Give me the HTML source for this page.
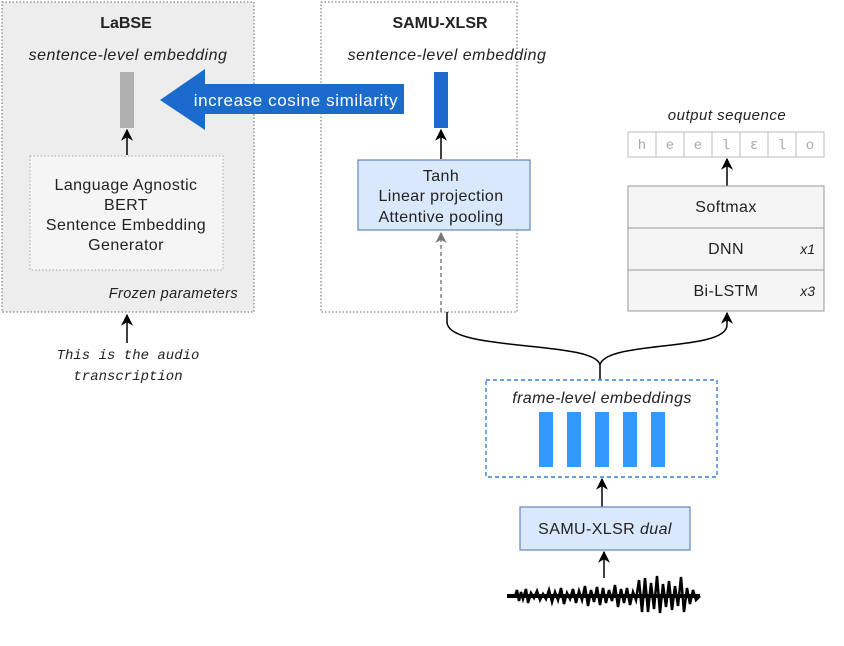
<!DOCTYPE html>
<html><head><meta charset="utf-8"><style>body{margin:0;background:#fff}svg{display:block}text{font-family:"Liberation Sans",sans-serif;fill:#222}</style></head>
<body>
<svg width="844" height="646" viewBox="0 0 844 646" xmlns="http://www.w3.org/2000/svg">
<defs>
<marker id="a" viewBox="0 0 10 10" refX="9" refY="5" markerWidth="8" markerHeight="8" orient="auto"><path d="M0,0 L10,5 L0,10 L3,5 z" fill="#000"/></marker>
<marker id="g" viewBox="0 0 10 10" refX="9" refY="5" markerWidth="8" markerHeight="8" orient="auto"><path d="M0,0 L10,5 L0,10 L3,5 z" fill="#777"/></marker>
</defs>
<!-- LaBSE -->
<rect x="2" y="2" width="252" height="310" fill="#ededed" stroke="#666" stroke-dasharray="1.5,2"/>
<text x="126" y="28" font-size="16" font-weight="bold" text-anchor="middle">LaBSE</text>
<text x="128" y="60" font-size="16" font-style="italic" text-anchor="middle" letter-spacing="0.5">sentence-level embedding</text>
<rect x="120" y="72" width="14" height="56" fill="#b0b0b0"/>
<line x1="127" y1="155" x2="127" y2="130" stroke="#000" stroke-width="1.5" marker-end="url(#a)"/>
<rect x="30" y="156" width="193" height="114" fill="#f5f5f5" stroke="#aaa" stroke-dasharray="1.5,2"/>
<text font-size="16" text-anchor="middle" letter-spacing="0.4"><tspan x="126" y="190">Language Agnostic</tspan><tspan x="126" y="210">BERT</tspan><tspan x="126" y="230">Sentence Embedding</tspan><tspan x="126" y="250">Generator</tspan></text>
<text x="238" y="298" font-size="14.5" font-style="italic" text-anchor="end" fill="#333" letter-spacing="0.4">Frozen parameters</text>
<line x1="127" y1="343" x2="127" y2="315" stroke="#000" stroke-width="1.5" marker-end="url(#a)"/>
<text font-size="14" font-style="italic" text-anchor="middle" fill="#333"><tspan x="128" y="359" style="font-family:'Liberation Mono',monospace">This is the audio</tspan><tspan x="128" y="380" style="font-family:'Liberation Mono',monospace">transcription</tspan></text>
<!-- SAMU -->
<rect x="321" y="2" width="196" height="310" fill="#fff" stroke="#666" stroke-dasharray="1.5,2"/>
<text x="440" y="28" font-size="16" font-weight="bold" text-anchor="middle">SAMU-XLSR</text>
<text x="447" y="60" font-size="16" font-style="italic" text-anchor="middle" letter-spacing="0.5">sentence-level embedding</text>
<rect x="434" y="72" width="14" height="56" fill="#1a6bcc"/>
<path d="M160,100 L205,69 L205,84 L404,84 L404,114 L205,114 L205,130 Z" fill="#1a6bcc"/>
<text x="296" y="106" font-size="17" text-anchor="middle" letter-spacing="0.6" style="fill:#fff">increase cosine similarity</text>
<line x1="441" y1="159" x2="441" y2="130" stroke="#000" stroke-width="1.5" marker-end="url(#a)"/>
<rect x="358" y="160" width="172" height="70" fill="#dae8fc" stroke="#6c8ebf" stroke-width="1.3"/>
<text font-size="16" text-anchor="middle" letter-spacing="0.4"><tspan x="441" y="181">Tanh</tspan><tspan x="441" y="201">Linear projection</tspan><tspan x="441" y="222">Attentive pooling</tspan></text>
<line x1="441" y1="312" x2="441" y2="233" stroke="#777" stroke-width="1.4" stroke-dasharray="4,3" marker-end="url(#g)"/>
<!-- brace -->
<path d="M447,312 L447,322 C447,352 595,340 600,365 L600,380 M600,380 L600,365 C605,340 727,352 727,325 L727,314" fill="none" stroke="#000" stroke-width="1.5"/>
<line x1="727" y1="322" x2="727" y2="313" stroke="#000" stroke-width="1.5" marker-end="url(#a)"/>
<!-- output -->
<text x="727" y="120" font-size="15" font-style="italic" text-anchor="middle" letter-spacing="0.5">output sequence</text>
<g stroke="#bbb" fill="#fff">
<rect x="628" y="132" width="28" height="25"/><rect x="656" y="132" width="28" height="25"/><rect x="684" y="132" width="28" height="25"/><rect x="712" y="132" width="28" height="25"/><rect x="740" y="132" width="28" height="25"/><rect x="768" y="132" width="28" height="25"/><rect x="796" y="132" width="28" height="25"/>
</g>
<g font-size="14" text-anchor="middle"><text x="642" y="149" style="fill:#aaa;font-family:'Liberation Mono',monospace">h</text><text x="670" y="149" style="fill:#aaa;font-family:'Liberation Mono',monospace">e</text><text x="698" y="149" style="fill:#aaa;font-family:'Liberation Mono',monospace">e</text><text x="726" y="149" style="fill:#aaa;font-family:'Liberation Mono',monospace">l</text><text x="754" y="149" style="fill:#aaa;font-family:'DejaVu Sans',sans-serif">ɛ</text><text x="782" y="149" style="fill:#aaa;font-family:'Liberation Mono',monospace">l</text><text x="810" y="149" style="fill:#aaa;font-family:'Liberation Mono',monospace">o</text></g>
<line x1="727" y1="186" x2="727" y2="159" stroke="#000" stroke-width="1.5" marker-end="url(#a)"/>
<g fill="#f5f5f5" stroke="#999"><rect x="628" y="186" width="196" height="42"/><rect x="628" y="228" width="196" height="42"/><rect x="628" y="270" width="196" height="41"/></g>
<text x="726" y="212" font-size="16" text-anchor="middle" letter-spacing="0.4">Softmax</text>
<text x="726" y="254" font-size="16" text-anchor="middle" letter-spacing="0.4">DNN</text>
<text x="815" y="254" font-size="14" font-style="italic" text-anchor="end">x1</text>
<text x="726" y="296" font-size="16" text-anchor="middle" letter-spacing="0.4">Bi-LSTM</text>
<text x="815" y="296" font-size="14" font-style="italic" text-anchor="end">x3</text>
<!-- frame -->
<rect x="486" y="380" width="231" height="97" fill="#fff" stroke="#3a7fd5" stroke-width="1.4" stroke-dasharray="4,3"/>
<text x="602" y="403" font-size="16" font-style="italic" text-anchor="middle" letter-spacing="0.4">frame-level embeddings</text>
<g fill="#3399ff"><rect x="539" y="412" width="14" height="55"/><rect x="567" y="412" width="14" height="55"/><rect x="595" y="412" width="14" height="55"/><rect x="623" y="412" width="14" height="55"/><rect x="651" y="412" width="14" height="55"/></g>
<line x1="602" y1="507" x2="602" y2="479" stroke="#000" stroke-width="1.5" marker-end="url(#a)"/>
<rect x="520" y="507" width="170" height="43" fill="#dae8fc" stroke="#6c8ebf" stroke-width="1.3"/>
<text x="605" y="534" font-size="16" text-anchor="middle" letter-spacing="0.4">SAMU-XLSR <tspan font-style="italic">dual</tspan></text>
<line x1="604" y1="578" x2="604" y2="552" stroke="#000" stroke-width="1.5" marker-end="url(#a)"/>
<!-- waveform -->
<path d="M507,596 L515,596 L517,590 L519,601 L521,592 L523,599 L526,589 L528,603 L531,593 L534,598 L537,591 L540,600 L543,594 L546,599 L549,590 L552,602 L555,592 L558,600 L561,588 L564,604 L567,593 L570,599 L573,589 L576,603 L579,591 L582,600 L585,586 L588,606 L591,590 L594,602 L597,587 L600,605 L603,588 L606,603 L609,590 L612,601 L615,585 L618,607 L621,589 L624,603 L627,588 L630,605 L633,592 L636,600 L639,580 L642,612 L645,578 L648,612 L651,583 L654,609 L657,576 L660,613 L663,584 L666,607 L669,581 L672,610 L675,586 L678,606 L681,577 L684,612 L687,588 L690,604 L693,590 L696,600 L700,596" fill="none" stroke="#000" stroke-width="2.5"/>
<rect x="507" y="594" width="193" height="4" fill="#000"/>
</svg>
</body></html>
